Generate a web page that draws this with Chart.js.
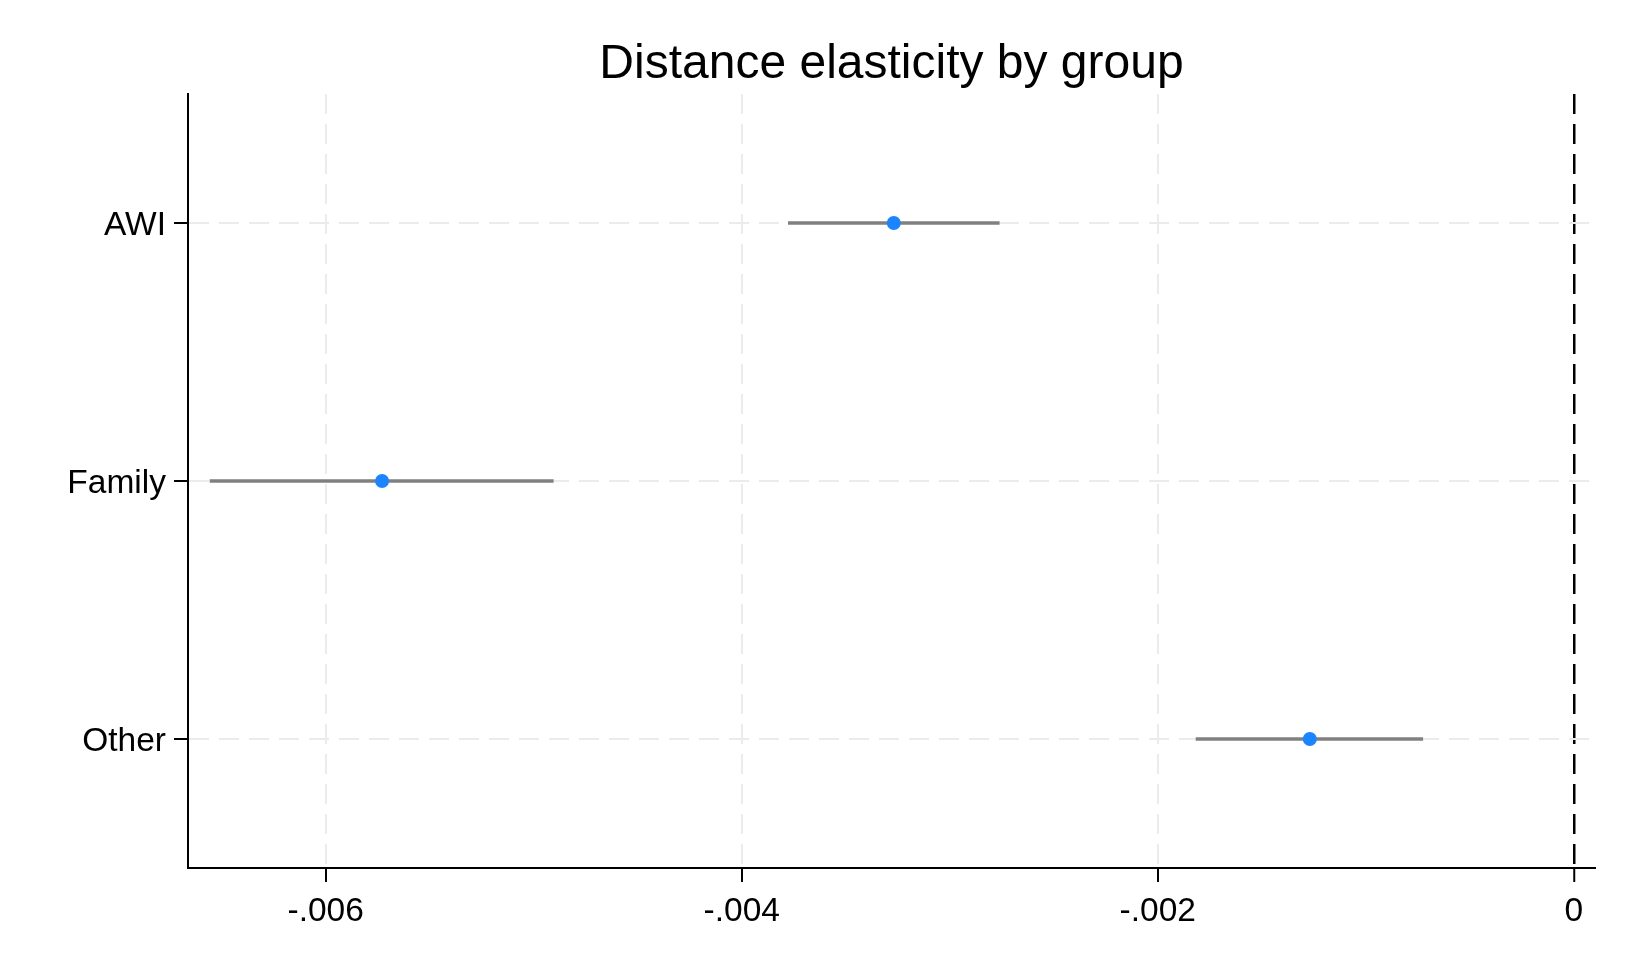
<!DOCTYPE html>
<html>
<head>
<meta charset="utf-8">
<script src="https://cdn.jsdelivr.net/npm/chart.js@4"></script>
<style>
    html, body { margin: 0; padding: 0; background: #fff; }
    #wrap { width: 1630px; height: 978px; }
</style>
</head>
<body>
<div id="wrap"><canvas id="chart" width="1630" height="978"></canvas></div>
<script>
const groups = ['AWI', 'Family', 'Other'];
const estimates = [-0.003269, -0.005729, -0.001269];
const ciLow = [-0.003776, -0.006556, -0.001816];
const ciHigh = [-0.002762, -0.004906, -0.000726];
const xTicks = [-0.006, -0.004, -0.002, 0];
const xTickLabels = ['-.006', '-.004', '-.002', '0'];
const titleText = 'Distance elasticity by group';

const baseFont = "'Liberation Sans', Arial, sans-serif";

// title centred over the plot area (like Stata), not over the whole canvas
const plotTitle = {
    id: 'plotTitle',
    afterDraw(chart) {
        const { ctx, chartArea } = chart;
        ctx.save();
        ctx.font = "48px " + baseFont;
        ctx.fillStyle = '#000';
        ctx.textAlign = 'center';
        ctx.textBaseline = 'alphabetic';
        ctx.fillText(titleText, (chartArea.left + chartArea.right) / 2, 78);
        ctx.restore();
    }
};

const ctx = document.getElementById('chart').getContext('2d');
const chart = new Chart(ctx, {
    type: 'bar',
    data: {
        labels: groups,
        datasets: [
            {
                type: 'line',
                indexAxis: 'y',
                data: groups.map((g, i) => ({ x: estimates[i], y: g })),
                showLine: false,
                pointRadius: 7,
                pointBackgroundColor: '#1a85ff',
                pointBorderWidth: 0,
                order: 0
            },
            {
                type: 'bar',
                data: groups.map((g, i) => [ciLow[i], ciHigh[i]]),
                backgroundColor: '#808080',
                borderWidth: 0,
                barThickness: 3,
                order: 1
            }
        ]
    },
    options: {
        indexAxis: 'y',
        responsive: false,
        animation: false,
        layout: { padding: { left: 0, right: 35, top: 94, bottom: 0 } },
        plugins: {
            legend: { display: false },
            tooltip: { enabled: false },
            title: { display: false }
        },
        scales: {
            x: {
                type: 'linear',
                min: -0.006662,
                max: 0.000102,
                afterFit: scale => { scale.height = 110; },
                afterBuildTicks: scale => { scale.ticks = xTicks.map(v => ({ value: v })); },
                ticks: {
                    color: '#000',
                    padding: 10,
                    font: { family: baseFont, size: 33.5, lineHeight: 1.2 },
                    callback: value => xTickLabels[xTicks.indexOf(value)]
                },
                grid: {
                    color: c => (c.tick && c.tick.value === 0 ? '#000' : '#ebebeb'),
                    lineWidth: c => (c.tick && c.tick.value === 0 ? 2.5 : 2),
                    tickColor: '#000',
                    tickLength: 14,
                    tickWidth: 2
                },
                border: { display: true, color: '#000', width: 2, dash: [20, 10] }
            },
            y: {
                type: 'category',
                offset: true,
                afterFit: scale => { scale.width = 188; },
                ticks: {
                    color: '#000',
                    padding: 8,
                    labelOffset: 2.5,
                    font: { family: baseFont, size: 33.5 }
                },
                grid: {
                    offset: false,
                    color: '#ebebeb',
                    lineWidth: 2,
                    tickColor: '#000',
                    tickLength: 14,
                    tickWidth: 2
                },
                border: { display: true, color: '#000', width: 2, dash: [20, 10] }
            }
        }
    },
    plugins: [plotTitle]
});
</script>
</body>
</html>
